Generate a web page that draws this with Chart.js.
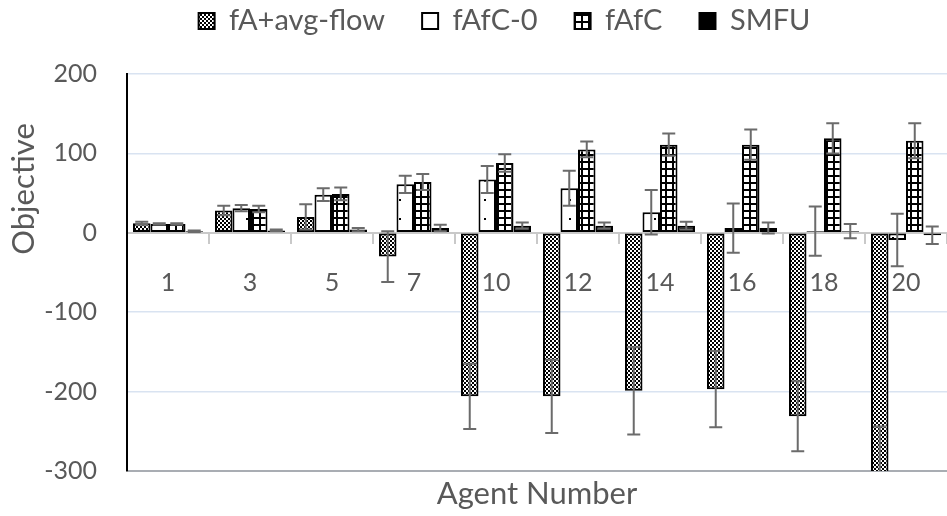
<!DOCTYPE html>
<html>
<head>
<meta charset="utf-8">
<script src="https://cdn.jsdelivr.net/npm/chart.js@4.4.1/dist/chart.umd.min.js"></script>
<style>
  html, body { margin: 0; padding: 0; background: #fff; overflow: hidden; }
  #wrap { width: 947px; height: 516px; position: relative; }
</style>
</head>
<body>
<div id="wrap"><canvas id="objectiveChart"></canvas></div>
<script>
// agent numbers on the x axis
const agentNumbers = ['1', '3', '5', '7', '10', '12', '14', '16', '18', '20'];

// mean objective per method
const fAAvgFlow = [12, 28, 20, -30, -206, -206, -199, -197, -231, -305];
const fAfC0 = [11, 31, 48, 61, 67, 56, 26, 6, 2, -9];
const fAfC = [11, 30, 49, 64, 88, 105, 111, 111, 119, 116];
const smfu = [2, 3, 4, 6, 9, 9, 9, 6, 2, -3];

// error bar half lengths
const fAAvgFlowErr = [2, 6, 16, 32, 41, 46, 55, 48, 44, 61];
const fAfC0Err = [1, 4, 8, 11, 17, 22, 28, 31, 31, 33];
const fAfCErr = [1, 4, 8, 10, 11, 10, 14, 19, 19, 22];
const smfuErr = [1, 1, 2, 4, 4, 4, 5, 7, 9, 11];

const yTicks = [200, 100, 0, -100, -200, -300];

const textGray = '#595959';
const fontName = 'Lato';

function makePattern(w, h, drawFn) {
    var c = document.createElement('canvas');
    c.width = w;
    c.height = h;
    var g = c.getContext('2d');
    g.fillStyle = '#fff';
    g.fillRect(0, 0, w, h);
    g.fillStyle = '#000';
    drawFn(g);
    return document.createElement('canvas').getContext('2d').createPattern(c, 'repeat');
}

// small checkerboard
var checkPattern = makePattern(4, 4, function(g) {
    g.fillRect(0, 0, 4, 4);
    g.fillStyle = '#fff';
    g.fillRect(0, 0, 2, 2);
    g.fillRect(2, 2, 2, 2);
});

// sparse dots
var dotPattern = makePattern(17, 19, function(g) {
    g.fillRect(8, 9, 2, 2);
});

// square grid
var gridPattern = makePattern(7, 7, function(g) {
    g.fillRect(0, 0, 7, 2);
    g.fillRect(0, 0, 2, 7);
});

const errorBars = {
    id: 'errorBars',
    afterDatasetsDraw(chart) {
        const ctx = chart.ctx;
        const area = chart.chartArea;
        const y = chart.scales.y;
        ctx.save();
        ctx.beginPath();
        ctx.rect(area.left, area.top, area.right - area.left, area.bottom - area.top);
        ctx.clip();
        ctx.strokeStyle = '#6b6b6b';
        ctx.lineWidth = 2;
        chart.data.datasets.forEach((ds, di) => {
            const meta = chart.getDatasetMeta(di);
            meta.data.forEach((bar, i) => {
                const v = ds.data[i];
                const e = ds.errors[i];
                const yHi = y.getPixelForValue(v + e);
                const yLo = y.getPixelForValue(v - e);
                const x = bar.x;
                ctx.beginPath();
                ctx.moveTo(x, yHi);
                ctx.lineTo(x, yLo);
                ctx.moveTo(x - 6.5, yHi);
                ctx.lineTo(x + 6.5, yHi);
                ctx.moveTo(x - 6.5, yLo);
                ctx.lineTo(x + 6.5, yLo);
                ctx.stroke();
            });
        });
        ctx.restore();
    }
};

// move the legend to where it sits in the original figure
const legendPlace = {
    id: 'legendPlace',
    afterLayout(chart) {
        const lg = chart.legend;
        lg.top -= 30.5;
        lg.bottom -= 30.5;
        lg.left += 31;
        lg.right += 31;
    }
};

// y axis title sits above the middle in the original, so draw it here
const yTitle = {
    id: 'yTitle',
    afterDraw(chart) {
        const ctx = chart.ctx;
        ctx.save();
        ctx.translate(24, chart.chartArea.top + 115);
        ctx.rotate(-Math.PI / 2);
        ctx.fillStyle = textGray;
        ctx.font = '31px ' + fontName;
        ctx.textAlign = 'center';
        ctx.textBaseline = 'middle';
        ctx.fillText('Objective', 0, 0);
        ctx.restore();
    }
};

function barSet(label, data, errors, fill) {
    return {
        label: label,
        data: data,
        errors: errors,
        backgroundColor: fill,
        borderColor: '#000',
        borderWidth: 2,
        borderSkipped: false
    };
}

var ctx = document.getElementById('objectiveChart').getContext('2d');
var objectiveChart = new Chart(ctx, {
    type: 'bar',
    data: {
        labels: agentNumbers,
        datasets: [
            barSet('fA+avg-flow', fAAvgFlow, fAAvgFlowErr, checkPattern),
            barSet('fAfC-0', fAfC0, fAfC0Err, dotPattern),
            barSet('fAfC', fAfC, fAfCErr, gridPattern),
            barSet('SMFU', smfu, smfuErr, '#000')
        ]
    },
    options: {
        responsive: true,
        maintainAspectRatio: false,
        animation: false,
        categoryPercentage: 0.854,
        barPercentage: 1,
        layout: { padding: { top: 0, left: 0, right: 0, bottom: 3 } },
        plugins: {
            legend: {
                position: 'top',
                maxHeight: 74,
                labels: {
                    boxWidth: 16,
                    boxHeight: 16,
                    padding: 37,
                    color: textGray,
                    font: { family: fontName, size: 29 }
                }
            },
            title: {
                display: true,
                position: 'bottom',
                fullSize: false,
                text: 'Agent Number',
                color: textGray,
                font: { family: fontName, size: 31, weight: 'normal' },
                padding: { top: 4, bottom: 0 }
            },
            tooltip: { enabled: false }
        },
        scales: {
            x: {
                position: { y: 0 },
                z: 1,
                grid: {
                    drawOnChartArea: false,
                    drawTicks: true,
                    tickLength: 10,
                    offset: true,
                    color: '#c9c9c9',
                    lineWidth: 2
                },
                border: { color: '#c9c9c9', width: 2 },
                ticks: {
                    color: textGray,
                    padding: 25,
                    font: { family: fontName, size: 25 }
                }
            },
            y: {
                min: -300,
                max: 200,
                afterBuildTicks: function(axis) {
                    axis.ticks = yTicks.map(v => ({ value: v }));
                },
                afterFit: function(axis) {
                    axis.width = 127;
                },
                grid: {
                    drawTicks: false,
                    color: c => c.tick.value === -300 ? '#a9adb3' : (c.tick.value === 0 ? 'rgba(0,0,0,0)' : '#d9e3f1'),
                    lineWidth: c => c.tick.value === -300 ? 2 : 1.5
                },
                border: { color: '#000', width: 2 },
                ticks: {
                    color: textGray,
                    padding: 30,
                    font: { family: fontName, size: 25 }
                }
            }
        }
    },
    plugins: [errorBars, legendPlace, yTitle]
});
</script>
</body>
</html>
